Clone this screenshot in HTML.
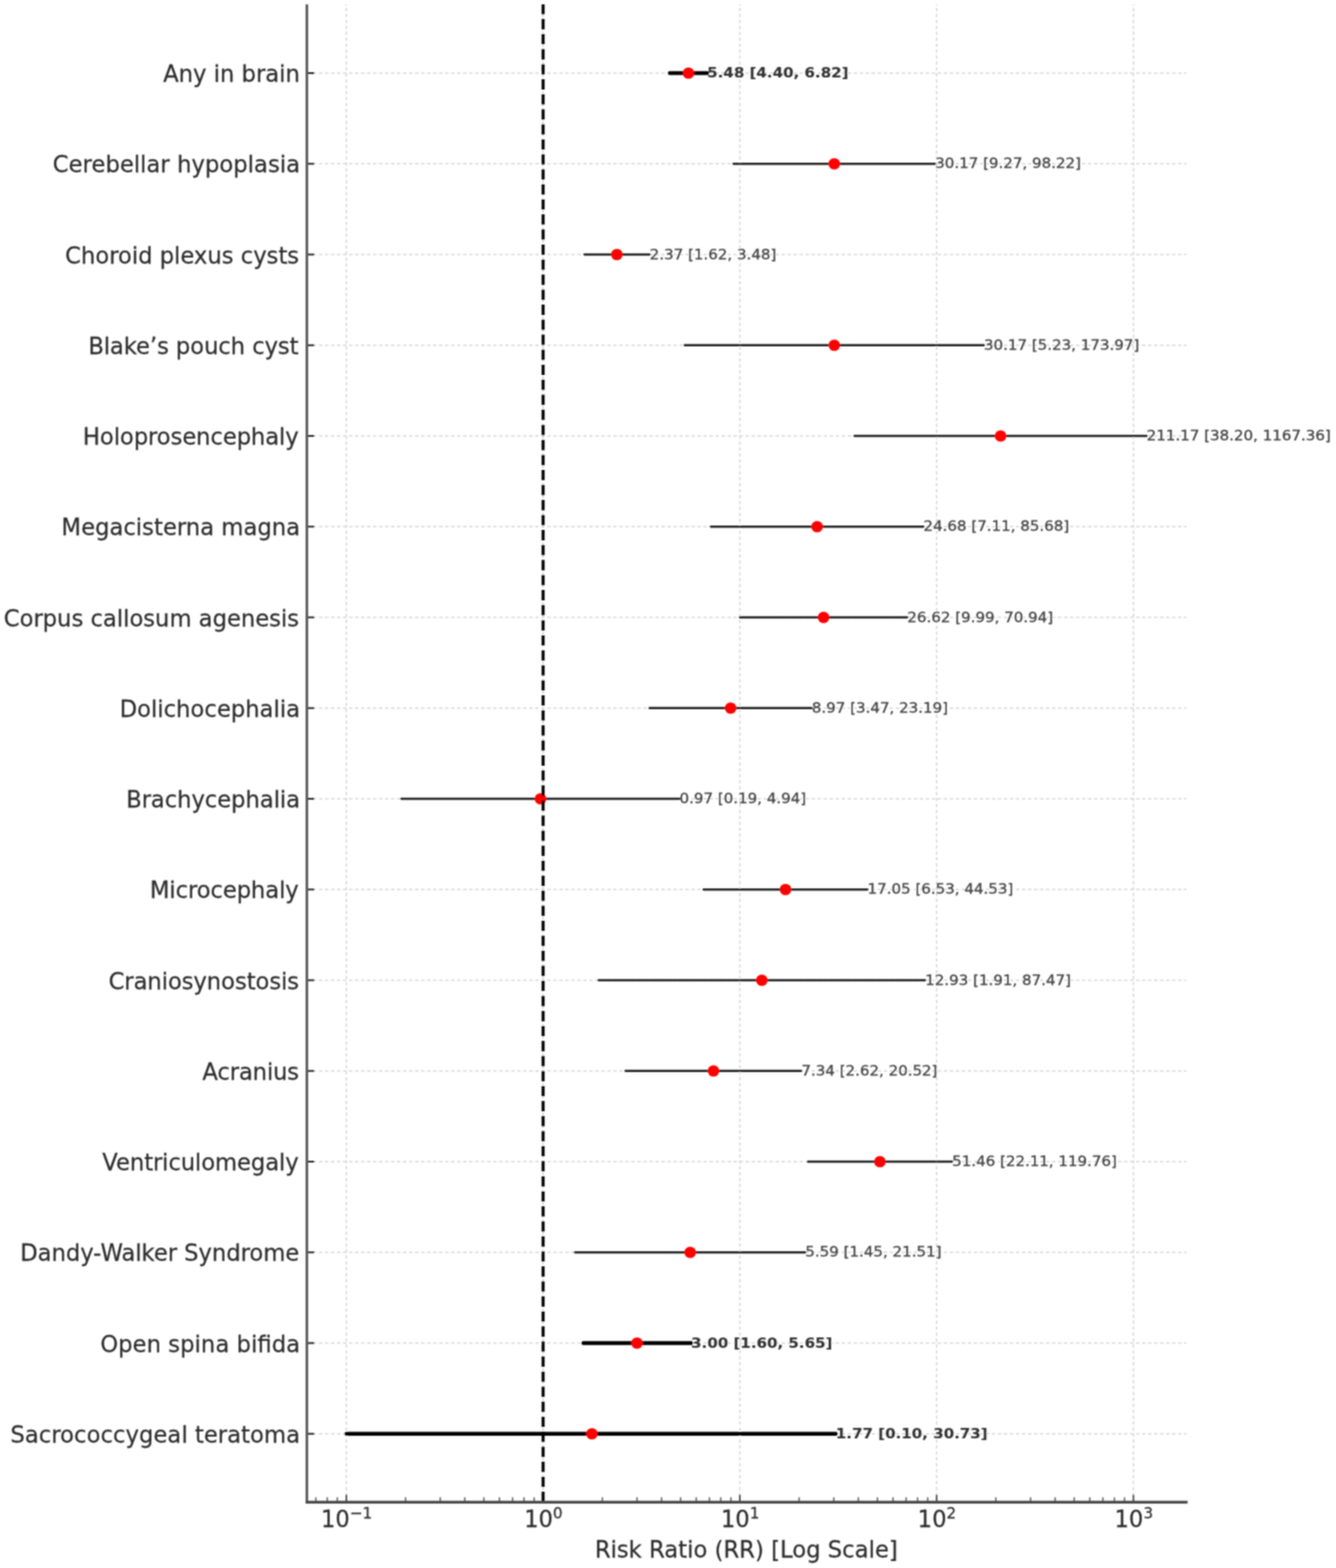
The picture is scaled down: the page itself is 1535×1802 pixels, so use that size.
<!DOCTYPE html><html><head><meta charset="utf-8"><title>Forest plot: Risk Ratio (RR)</title><style>
html,body{margin:0;padding:0;background:#fff;overflow:hidden;}
svg{display:block;}
text{font-family:"DejaVu Sans","Liberation Sans",sans-serif;}
</style></head><body>
<svg width="1535" height="1802" viewBox="0 0 1535 1802">
<rect width="1535" height="1802" fill="#fff"/>
<defs><filter id="bl" filterUnits="userSpaceOnUse" x="0" y="0" width="1535" height="1802"><feConvolveMatrix order="3" kernelMatrix="1 2 1 2 4 2 1 2 1" edgeMode="none"/></filter></defs>
<g filter="url(#bl)">
<g stroke="#d6d6d6" stroke-width="1.5" fill="none"><line x1="397.90" y1="1726.3" x2="397.90" y2="5.0" stroke-dasharray="4 2.826"/><line x1="624.00" y1="1726.3" x2="624.00" y2="5.0" stroke-dasharray="4 2.826"/><line x1="850.10" y1="1726.3" x2="850.10" y2="5.0" stroke-dasharray="4 2.826"/><line x1="1076.20" y1="1726.3" x2="1076.20" y2="5.0" stroke-dasharray="4 2.826"/><line x1="1302.30" y1="1726.3" x2="1302.30" y2="5.0" stroke-dasharray="4 2.826"/><line x1="352.6" y1="84.00" x2="1363.3" y2="84.00" stroke-dasharray="4 2.903"/><line x1="352.6" y1="188.25" x2="1363.3" y2="188.25" stroke-dasharray="4 2.903"/><line x1="352.6" y1="292.50" x2="1363.3" y2="292.50" stroke-dasharray="4 2.903"/><line x1="352.6" y1="396.75" x2="1363.3" y2="396.75" stroke-dasharray="4 2.903"/><line x1="352.6" y1="501.00" x2="1363.3" y2="501.00" stroke-dasharray="4 2.903"/><line x1="352.6" y1="605.25" x2="1363.3" y2="605.25" stroke-dasharray="4 2.903"/><line x1="352.6" y1="709.50" x2="1363.3" y2="709.50" stroke-dasharray="4 2.903"/><line x1="352.6" y1="813.75" x2="1363.3" y2="813.75" stroke-dasharray="4 2.903"/><line x1="352.6" y1="918.00" x2="1363.3" y2="918.00" stroke-dasharray="4 2.903"/><line x1="352.6" y1="1022.25" x2="1363.3" y2="1022.25" stroke-dasharray="4 2.903"/><line x1="352.6" y1="1126.50" x2="1363.3" y2="1126.50" stroke-dasharray="4 2.903"/><line x1="352.6" y1="1230.75" x2="1363.3" y2="1230.75" stroke-dasharray="4 2.903"/><line x1="352.6" y1="1335.00" x2="1363.3" y2="1335.00" stroke-dasharray="4 2.903"/><line x1="352.6" y1="1439.25" x2="1363.3" y2="1439.25" stroke-dasharray="4 2.903"/><line x1="352.6" y1="1543.50" x2="1363.3" y2="1543.50" stroke-dasharray="4 2.903"/><line x1="352.6" y1="1647.75" x2="1363.3" y2="1647.75" stroke-dasharray="4 2.903"/></g>
<g stroke="#222222" stroke-width="2.0"><line x1="352.6" y1="84.00" x2="361.1" y2="84.00"/><line x1="352.6" y1="188.25" x2="361.1" y2="188.25"/><line x1="352.6" y1="292.50" x2="361.1" y2="292.50"/><line x1="352.6" y1="396.75" x2="361.1" y2="396.75"/><line x1="352.6" y1="501.00" x2="361.1" y2="501.00"/><line x1="352.6" y1="605.25" x2="361.1" y2="605.25"/><line x1="352.6" y1="709.50" x2="361.1" y2="709.50"/><line x1="352.6" y1="813.75" x2="361.1" y2="813.75"/><line x1="352.6" y1="918.00" x2="361.1" y2="918.00"/><line x1="352.6" y1="1022.25" x2="361.1" y2="1022.25"/><line x1="352.6" y1="1126.50" x2="361.1" y2="1126.50"/><line x1="352.6" y1="1230.75" x2="361.1" y2="1230.75"/><line x1="352.6" y1="1335.00" x2="361.1" y2="1335.00"/><line x1="352.6" y1="1439.25" x2="361.1" y2="1439.25"/><line x1="352.6" y1="1543.50" x2="361.1" y2="1543.50"/><line x1="352.6" y1="1647.75" x2="361.1" y2="1647.75"/></g>
<g stroke="#444444" stroke-width="1.8"><line x1="397.90" y1="1726.3" x2="397.90" y2="1717.8"/><line x1="624.00" y1="1726.3" x2="624.00" y2="1717.8"/><line x1="850.10" y1="1726.3" x2="850.10" y2="1717.8"/><line x1="1076.20" y1="1726.3" x2="1076.20" y2="1717.8"/><line x1="1302.30" y1="1726.3" x2="1302.30" y2="1717.8"/></g>
<g stroke="#555555" stroke-width="1.5"><line x1="362.88" y1="1726.3" x2="362.88" y2="1720.8"/><line x1="375.99" y1="1726.3" x2="375.99" y2="1720.8"/><line x1="387.55" y1="1726.3" x2="387.55" y2="1720.8"/><line x1="465.96" y1="1726.3" x2="465.96" y2="1720.8"/><line x1="505.78" y1="1726.3" x2="505.78" y2="1720.8"/><line x1="534.03" y1="1726.3" x2="534.03" y2="1720.8"/><line x1="555.94" y1="1726.3" x2="555.94" y2="1720.8"/><line x1="573.84" y1="1726.3" x2="573.84" y2="1720.8"/><line x1="588.98" y1="1726.3" x2="588.98" y2="1720.8"/><line x1="602.09" y1="1726.3" x2="602.09" y2="1720.8"/><line x1="613.65" y1="1726.3" x2="613.65" y2="1720.8"/><line x1="692.06" y1="1726.3" x2="692.06" y2="1720.8"/><line x1="731.88" y1="1726.3" x2="731.88" y2="1720.8"/><line x1="760.13" y1="1726.3" x2="760.13" y2="1720.8"/><line x1="782.04" y1="1726.3" x2="782.04" y2="1720.8"/><line x1="799.94" y1="1726.3" x2="799.94" y2="1720.8"/><line x1="815.08" y1="1726.3" x2="815.08" y2="1720.8"/><line x1="828.19" y1="1726.3" x2="828.19" y2="1720.8"/><line x1="839.75" y1="1726.3" x2="839.75" y2="1720.8"/><line x1="918.16" y1="1726.3" x2="918.16" y2="1720.8"/><line x1="957.98" y1="1726.3" x2="957.98" y2="1720.8"/><line x1="986.23" y1="1726.3" x2="986.23" y2="1720.8"/><line x1="1008.14" y1="1726.3" x2="1008.14" y2="1720.8"/><line x1="1026.04" y1="1726.3" x2="1026.04" y2="1720.8"/><line x1="1041.18" y1="1726.3" x2="1041.18" y2="1720.8"/><line x1="1054.29" y1="1726.3" x2="1054.29" y2="1720.8"/><line x1="1065.85" y1="1726.3" x2="1065.85" y2="1720.8"/><line x1="1144.26" y1="1726.3" x2="1144.26" y2="1720.8"/><line x1="1184.08" y1="1726.3" x2="1184.08" y2="1720.8"/><line x1="1212.33" y1="1726.3" x2="1212.33" y2="1720.8"/><line x1="1234.24" y1="1726.3" x2="1234.24" y2="1720.8"/><line x1="1252.14" y1="1726.3" x2="1252.14" y2="1720.8"/><line x1="1267.28" y1="1726.3" x2="1267.28" y2="1720.8"/><line x1="1280.39" y1="1726.3" x2="1280.39" y2="1720.8"/><line x1="1291.95" y1="1726.3" x2="1291.95" y2="1720.8"/></g>
<line x1="769.48" y1="84.00" x2="812.52" y2="84.00" stroke="#000" stroke-width="4.4" stroke-linecap="round"/>
<line x1="842.66" y1="188.25" x2="1074.44" y2="188.25" stroke="#1c1c1c" stroke-width="2.3" stroke-linecap="round"/>
<line x1="671.37" y1="292.50" x2="746.45" y2="292.50" stroke="#1c1c1c" stroke-width="2.3" stroke-linecap="round"/>
<line x1="786.45" y1="396.75" x2="1130.57" y2="396.75" stroke="#1c1c1c" stroke-width="2.3" stroke-linecap="round"/>
<line x1="981.70" y1="501.00" x2="1317.50" y2="501.00" stroke="#1c1c1c" stroke-width="2.3" stroke-linecap="round"/>
<line x1="816.61" y1="605.25" x2="1061.02" y2="605.25" stroke="#1c1c1c" stroke-width="2.3" stroke-linecap="round"/>
<line x1="850.00" y1="709.50" x2="1042.49" y2="709.50" stroke="#1c1c1c" stroke-width="2.3" stroke-linecap="round"/>
<line x1="746.17" y1="813.75" x2="932.69" y2="813.75" stroke="#1c1c1c" stroke-width="2.3" stroke-linecap="round"/>
<line x1="460.93" y1="918.00" x2="780.85" y2="918.00" stroke="#1c1c1c" stroke-width="2.3" stroke-linecap="round"/>
<line x1="808.25" y1="1022.25" x2="996.76" y2="1022.25" stroke="#1c1c1c" stroke-width="2.3" stroke-linecap="round"/>
<line x1="687.54" y1="1126.50" x2="1063.05" y2="1126.50" stroke="#1c1c1c" stroke-width="2.3" stroke-linecap="round"/>
<line x1="718.58" y1="1230.75" x2="920.68" y2="1230.75" stroke="#1c1c1c" stroke-width="2.3" stroke-linecap="round"/>
<line x1="928.01" y1="1335.00" x2="1093.91" y2="1335.00" stroke="#1c1c1c" stroke-width="2.3" stroke-linecap="round"/>
<line x1="660.49" y1="1439.25" x2="925.31" y2="1439.25" stroke="#1c1c1c" stroke-width="2.3" stroke-linecap="round"/>
<line x1="670.15" y1="1543.50" x2="794.04" y2="1543.50" stroke="#000" stroke-width="4.4" stroke-linecap="round"/>
<line x1="397.90" y1="1647.75" x2="960.34" y2="1647.75" stroke="#000" stroke-width="4.4" stroke-linecap="round"/>
<circle cx="791.04" cy="84.00" r="6.6" fill="#f00"/>
<circle cx="958.53" cy="188.25" r="6.6" fill="#f00"/>
<circle cx="708.73" cy="292.50" r="6.6" fill="#f00"/>
<circle cx="958.53" cy="396.75" r="6.6" fill="#f00"/>
<circle cx="1149.60" cy="501.00" r="6.6" fill="#f00"/>
<circle cx="938.81" cy="605.25" r="6.6" fill="#f00"/>
<circle cx="946.24" cy="709.50" r="6.6" fill="#f00"/>
<circle cx="839.43" cy="813.75" r="6.6" fill="#f00"/>
<circle cx="621.01" cy="918.00" r="6.6" fill="#f00"/>
<circle cx="902.49" cy="1022.25" r="6.6" fill="#f00"/>
<circle cx="875.33" cy="1126.50" r="6.6" fill="#f00"/>
<circle cx="819.73" cy="1230.75" r="6.6" fill="#f00"/>
<circle cx="1010.96" cy="1335.00" r="6.6" fill="#f00"/>
<circle cx="792.99" cy="1439.25" r="6.6" fill="#f00"/>
<circle cx="731.88" cy="1543.50" r="6.6" fill="#f00"/>
<circle cx="680.07" cy="1647.75" r="6.6" fill="#f00"/>
<line x1="624.00" y1="1726.3" x2="624.00" y2="5.0" stroke="#000" stroke-width="3.4" stroke-dasharray="12 5.27"/>
<line x1="352.6" y1="5.0" x2="352.6" y2="1726.3" stroke="#5c5c5c" stroke-width="3.0"/>
<line x1="351.1" y1="1726.3" x2="1364.5" y2="1726.3" stroke="#4a4a4a" stroke-width="3.2"/>
<text transform="translate(812.52,89.10) scale(1,0.95)" font-size="17.3" font-weight="bold" fill="#333" stroke="#333" stroke-width="0.15">5.48 [4.40, 6.82]</text>
<text transform="translate(1074.44,193.35) scale(1,0.95)" font-size="17.3" font-weight="normal" fill="#444" stroke="#444" stroke-width="0.35">30.17 [9.27, 98.22]</text>
<text transform="translate(746.45,297.60) scale(1,0.95)" font-size="17.3" font-weight="normal" fill="#444" stroke="#444" stroke-width="0.35">2.37 [1.62, 3.48]</text>
<text transform="translate(1130.57,401.85) scale(1,0.95)" font-size="17.3" font-weight="normal" fill="#444" stroke="#444" stroke-width="0.35">30.17 [5.23, 173.97]</text>
<text transform="translate(1317.50,506.10) scale(1,0.95)" font-size="17.3" font-weight="normal" fill="#444" stroke="#444" stroke-width="0.35">211.17 [38.20, 1167.36]</text>
<text transform="translate(1061.02,610.35) scale(1,0.95)" font-size="17.3" font-weight="normal" fill="#444" stroke="#444" stroke-width="0.35">24.68 [7.11, 85.68]</text>
<text transform="translate(1042.49,714.60) scale(1,0.95)" font-size="17.3" font-weight="normal" fill="#444" stroke="#444" stroke-width="0.35">26.62 [9.99, 70.94]</text>
<text transform="translate(932.69,818.85) scale(1,0.95)" font-size="17.3" font-weight="normal" fill="#444" stroke="#444" stroke-width="0.35">8.97 [3.47, 23.19]</text>
<text transform="translate(780.85,923.10) scale(1,0.95)" font-size="17.3" font-weight="normal" fill="#444" stroke="#444" stroke-width="0.35">0.97 [0.19, 4.94]</text>
<text transform="translate(996.76,1027.35) scale(1,0.95)" font-size="17.3" font-weight="normal" fill="#444" stroke="#444" stroke-width="0.35">17.05 [6.53, 44.53]</text>
<text transform="translate(1063.05,1131.60) scale(1,0.95)" font-size="17.3" font-weight="normal" fill="#444" stroke="#444" stroke-width="0.35">12.93 [1.91, 87.47]</text>
<text transform="translate(920.68,1235.85) scale(1,0.95)" font-size="17.3" font-weight="normal" fill="#444" stroke="#444" stroke-width="0.35">7.34 [2.62, 20.52]</text>
<text transform="translate(1093.91,1340.10) scale(1,0.95)" font-size="17.3" font-weight="normal" fill="#444" stroke="#444" stroke-width="0.35">51.46 [22.11, 119.76]</text>
<text transform="translate(925.31,1444.35) scale(1,0.95)" font-size="17.3" font-weight="normal" fill="#444" stroke="#444" stroke-width="0.35">5.59 [1.45, 21.51]</text>
<text transform="translate(794.04,1548.60) scale(1,0.95)" font-size="17.3" font-weight="bold" fill="#333" stroke="#333" stroke-width="0.15">3.00 [1.60, 5.65]</text>
<text transform="translate(960.34,1652.85) scale(1,0.95)" font-size="17.3" font-weight="bold" fill="#333" stroke="#333" stroke-width="0.15">1.77 [0.10, 30.73]</text>
<text transform="translate(344.62,94.10) scale(1,1.05)" font-size="26.1" text-anchor="end" textLength="157.25" lengthAdjust="spacing" fill="#2e2e2e" stroke="#2e2e2e" stroke-width="0.25">Any in brain</text>
<text transform="translate(344.77,198.35) scale(1,1.05)" font-size="26.1" text-anchor="end" textLength="284.23" lengthAdjust="spacing" fill="#2e2e2e" stroke="#2e2e2e" stroke-width="0.25">Cerebellar hypoplasia</text>
<text transform="translate(343.67,302.60) scale(1,1.05)" font-size="26.1" text-anchor="end" textLength="268.90" lengthAdjust="spacing" fill="#2e2e2e" stroke="#2e2e2e" stroke-width="0.25">Choroid plexus cysts</text>
<text transform="translate(343.02,406.85) scale(1,1.05)" font-size="26.1" text-anchor="end" textLength="241.64" lengthAdjust="spacing" fill="#2e2e2e" stroke="#2e2e2e" stroke-width="0.25">Blake’s pouch cyst</text>
<text transform="translate(343.18,511.10) scale(1,1.05)" font-size="26.1" text-anchor="end" textLength="247.82" lengthAdjust="spacing" fill="#2e2e2e" stroke="#2e2e2e" stroke-width="0.25">Holoprosencephaly</text>
<text transform="translate(344.77,615.35) scale(1,1.05)" font-size="26.1" text-anchor="end" textLength="274.16" lengthAdjust="spacing" fill="#2e2e2e" stroke="#2e2e2e" stroke-width="0.25">Megacisterna magna</text>
<text transform="translate(343.67,719.60) scale(1,1.05)" font-size="26.1" text-anchor="end" textLength="339.39" lengthAdjust="spacing" fill="#2e2e2e" stroke="#2e2e2e" stroke-width="0.25">Corpus callosum agenesis</text>
<text transform="translate(344.77,823.85) scale(1,1.05)" font-size="26.1" text-anchor="end" textLength="207.36" lengthAdjust="spacing" fill="#2e2e2e" stroke="#2e2e2e" stroke-width="0.25">Dolichocephalia</text>
<text transform="translate(344.77,928.10) scale(1,1.05)" font-size="26.1" text-anchor="end" textLength="199.90" lengthAdjust="spacing" fill="#2e2e2e" stroke="#2e2e2e" stroke-width="0.25">Brachycephalia</text>
<text transform="translate(343.18,1032.35) scale(1,1.05)" font-size="26.1" text-anchor="end" textLength="170.99" lengthAdjust="spacing" fill="#2e2e2e" stroke="#2e2e2e" stroke-width="0.25">Microcephaly</text>
<text transform="translate(343.67,1136.60) scale(1,1.05)" font-size="26.1" text-anchor="end" textLength="219.04" lengthAdjust="spacing" fill="#2e2e2e" stroke="#2e2e2e" stroke-width="0.25">Craniosynostosis</text>
<text transform="translate(343.67,1240.85) scale(1,1.05)" font-size="26.1" text-anchor="end" textLength="111.06" lengthAdjust="spacing" fill="#2e2e2e" stroke="#2e2e2e" stroke-width="0.25">Acranius</text>
<text transform="translate(343.18,1345.10) scale(1,1.05)" font-size="26.1" text-anchor="end" textLength="225.62" lengthAdjust="spacing" fill="#2e2e2e" stroke="#2e2e2e" stroke-width="0.25">Ventriculomegaly</text>
<text transform="translate(343.79,1449.35) scale(1,1.05)" font-size="26.1" text-anchor="end" textLength="320.51" lengthAdjust="spacing" fill="#2e2e2e" stroke="#2e2e2e" stroke-width="0.25">Dandy-Walker Syndrome</text>
<text transform="translate(344.77,1553.60) scale(1,1.05)" font-size="26.1" text-anchor="end" textLength="229.64" lengthAdjust="spacing" fill="#2e2e2e" stroke="#2e2e2e" stroke-width="0.25">Open spina bifida</text>
<text transform="translate(344.77,1657.85) scale(1,1.05)" font-size="26.1" text-anchor="end" textLength="332.84" lengthAdjust="spacing" fill="#2e2e2e" stroke="#2e2e2e" stroke-width="0.25">Sacrococcygeal teratoma</text>
<text transform="translate(398.20,1755.4) scale(1,1.05)" font-size="26.1" text-anchor="middle" fill="#2e2e2e" stroke="#2e2e2e" stroke-width="0.25">10<tspan font-size="17.49" dy="-9.7">−1</tspan></text>
<text transform="translate(624.30,1755.4) scale(1,1.05)" font-size="26.1" text-anchor="middle" fill="#2e2e2e" stroke="#2e2e2e" stroke-width="0.25">10<tspan font-size="17.49" dy="-9.7">0</tspan></text>
<text transform="translate(850.40,1755.4) scale(1,1.05)" font-size="26.1" text-anchor="middle" fill="#2e2e2e" stroke="#2e2e2e" stroke-width="0.25">10<tspan font-size="17.49" dy="-9.7">1</tspan></text>
<text transform="translate(1076.50,1755.4) scale(1,1.05)" font-size="26.1" text-anchor="middle" fill="#2e2e2e" stroke="#2e2e2e" stroke-width="0.25">10<tspan font-size="17.49" dy="-9.7">2</tspan></text>
<text transform="translate(1302.60,1755.4) scale(1,1.05)" font-size="26.1" text-anchor="middle" fill="#2e2e2e" stroke="#2e2e2e" stroke-width="0.25">10<tspan font-size="17.49" dy="-9.7">3</tspan></text>
<text transform="translate(857.4,1790.3) scale(1,1.05)" font-size="26.1" text-anchor="middle" fill="#2e2e2e" stroke="#2e2e2e" stroke-width="0.25">Risk Ratio (RR) [Log Scale]</text>
</g></svg></body></html>
